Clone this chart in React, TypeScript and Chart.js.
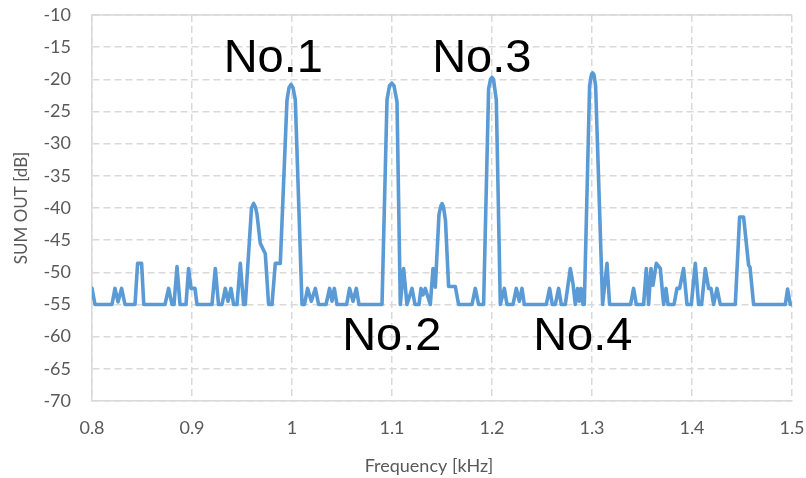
import React, { useEffect, useRef } from "react";
import { Chart, registerables } from "chart.js";

Chart.register(...registerables);

// Frequency (kHz) and SUM OUT (dB) vertices of the spectrum trace
const freqKHz = [
  0.8, 0.803, 0.82, 0.823, 0.826, 0.8296, 0.833, 0.843, 0.8456, 0.8496, 0.8518,
  0.873, 0.8766, 0.88, 0.882, 0.885, 0.888, 0.894, 0.8966, 0.899, 0.903, 0.905,
  0.92, 0.9233, 0.9265, 0.93, 0.9333, 0.936, 0.939, 0.9416, 0.945, 0.9483, 0.9516,
  0.9533, 0.9595, 0.9616, 0.9635, 0.965, 0.9683, 0.9733, 0.9766, 0.98, 0.9833, 0.9883,
  0.995, 0.997, 0.999, 1.001, 1.0033, 1.0066, 1.01, 1.0125, 1.0156, 1.0193, 1.0233,
  1.0266, 1.034, 1.0376, 1.04, 1.0423, 1.045, 1.0546, 1.0576, 1.061, 1.0643, 1.067,
  1.09, 1.095, 1.0975, 1.0998, 1.102, 1.105, 1.1083, 1.1116, 1.115, 1.12, 1.123,
  1.127, 1.129, 1.131, 1.1333, 1.1383, 1.141, 1.1433, 1.147, 1.149, 1.15, 1.1515,
  1.1535, 1.1566, 1.1633, 1.1666, 1.18, 1.1833, 1.1866, 1.1916, 1.1966, 1.1985, 1.2,
  1.2015, 1.2043, 1.2083, 1.2123, 1.215, 1.221, 1.2243, 1.2273, 1.23, 1.2323, 1.2543,
  1.2576, 1.2603, 1.2633, 1.2666, 1.2693, 1.2733, 1.2783, 1.281, 1.2833, 1.2856, 1.2873,
  1.289, 1.291, 1.2923, 1.2976, 1.2995, 1.3006, 1.302, 1.3036, 1.3106, 1.315, 1.3176,
  1.3386, 1.3416, 1.3443, 1.3516, 1.3543, 1.3566, 1.359, 1.361, 1.3643, 1.3683, 1.3716,
  1.374, 1.376, 1.382, 1.385, 1.3876, 1.3916, 1.395, 1.3993, 1.4033, 1.4066, 1.4096,
  1.4133, 1.4166, 1.419, 1.4216, 1.425, 1.4283, 1.4433, 1.4476, 1.4516, 1.4566, 1.458,
  1.4616, 1.4933, 1.4956, 1.4983, 1.5,
];

const sumOutDb = [
  -52.5, -55, -55, -52.5, -54.6, -52.5, -55, -55, -48.6, -48.6, -55,
  -55, -52.5, -55, -55, -49.1, -55, -55, -49.4, -52.5, -52.5, -55,
  -55, -49.4, -55, -55, -52.5, -54.5, -52.5, -55, -55, -48.6, -55,
  -55, -40, -39.3, -39.9, -41, -45.5, -47.1, -55, -55, -48.6, -48.6,
  -23.2, -21.3, -20.8, -21.3, -23.2, -38.8, -55, -55, -52.5, -54.5, -52.5,
  -55, -55, -52.5, -54.5, -52.5, -55, -55, -52.5, -54.5, -52.5, -55,
  -55, -23.2, -21, -20.6, -21, -23.5, -55, -49.4, -55, -52.5, -55,
  -55, -52.5, -53.5, -52.5, -55, -49.4, -52.3, -41, -39.6, -39.3, -39.8,
  -42, -52.2, -52.2, -55, -55, -52.5, -55, -55, -21.5, -20, -19.7,
  -20, -23.2, -55, -52.5, -55, -55, -52.5, -54.5, -52.5, -55, -55,
  -52.5, -55, -55, -52.5, -55, -55, -49.4, -51.8, -55, -52.5, -54.5,
  -52.5, -55, -55, -21, -19.2, -19.0, -19.3, -21, -55, -48.6, -55,
  -55, -52.5, -55, -55, -49.4, -55, -49.4, -52, -48.6, -49.4, -55,
  -52.5, -55, -55, -52.5, -52.5, -49.4, -55, -55, -48.6, -55, -55,
  -49.4, -52.5, -52.5, -55, -52.5, -55, -55, -41.4, -41.4, -48.9, -49.2,
  -55, -55, -52.6, -55, -55,
];

const xTickValues = [0.8, 0.9, 1.0, 1.1, 1.2, 1.3, 1.4, 1.5];
const xTickLabels = ["0.8", "0.9", "1", "1.1", "1.2", "1.3", "1.4", "1.5"];
const yTickValues = [-10, -15, -20, -25, -30, -35, -40, -45, -50, -55, -60, -65, -70];
const yTickLabels = ["-10", "-15", "-20", "-25", "-30", "-35", "-40", "-45", "-50", "-55", "-60", "-65", "-70"];

const peakLabels = ["No.1", "No.2", "No.3", "No.4"];
const peakLabelX = [0.9813, 1.0998, 1.1898, 1.2908];
const peakLabelY = [-18.9, -62.1, -18.9, -62.1];

const xTitle = "Frequency [kHz]";
const yTitle = "SUM OUT [dB]";

const TICK_FONT = "Lato, 'Open Sans', sans-serif";
const GRID = "#d9d9d9";
const TEXT = "#595959";

const overlayPlugin = {
  id: "overlay",
  afterDatasetsDraw(chart: any) {
    const { ctx, chartArea, scales } = chart;
    ctx.save();
    // solid top border
    ctx.strokeStyle = GRID;
    ctx.lineWidth = 1.5;
    ctx.beginPath();
    ctx.moveTo(chartArea.left, chartArea.top);
    ctx.lineTo(chartArea.right, chartArea.top);
    ctx.stroke();
    // peak labels
    ctx.fillStyle = "#000";
    ctx.font = "47px 'Liberation Sans', Arial, sans-serif";
    ctx.textAlign = "center";
    ctx.textBaseline = "alphabetic";
    peakLabels.forEach((t, i) => {
      ctx.fillText(t, scales.x.getPixelForValue(peakLabelX[i]), scales.y.getPixelForValue(peakLabelY[i]));
    });
    // axis titles
    ctx.fillStyle = TEXT;
    ctx.font = "18px " + TICK_FONT;
    ctx.textBaseline = "middle";
    ctx.fillText(xTitle, (chartArea.left + chartArea.right) / 2 - 13, 466);
    ctx.translate(22, (chartArea.top + chartArea.bottom) / 2);
    ctx.rotate(-Math.PI / 2);
    ctx.font = "17px " + TICK_FONT;
    ctx.fillText(yTitle, 0, 0);
    ctx.restore();
  },
};

const zeroPadding = (scale: any) => {
  scale.paddingTop = 0;
  scale.paddingBottom = 0;
  scale.paddingLeft = 0;
  scale.paddingRight = 0;
};

export default function App() {
  const ref = useRef<HTMLCanvasElement | null>(null);

  useEffect(() => {
    document.body.style.margin = "0";
    const canvas = ref.current;
    if (!canvas) return;
    const chart = new Chart(canvas, {
      type: "line",
      data: {
        datasets: [
          {
            data: freqKHz.map((f, i) => ({ x: f, y: sumOutDb[i] })),
            borderColor: "#5b9bd5",
            borderWidth: 3.6,
            pointRadius: 0,
            tension: 0,
            borderJoinStyle: "round",
            borderCapStyle: "round",
            fill: false,
          },
        ],
      },
      options: {
        responsive: false,
        animation: false,
        events: [],
        layout: { padding: { top: 15, right: 14, left: 0, bottom: 0 } },
        plugins: { legend: { display: false }, tooltip: { enabled: false }, title: { display: false } },
        scales: {
          x: {
            type: "linear",
            min: 0.8,
            max: 1.5,
            afterBuildTicks: (scale: any) => {
              scale.ticks = xTickValues.map((v) => ({ value: v }));
            },
            afterFit: (scale: any) => {
              scale.height = 77;
              zeroPadding(scale);
            },
            ticks: {
              autoSkip: false,
              maxRotation: 0,
              padding: 16,
              color: TEXT,
              font: { family: TICK_FONT, size: 18 },
              callback: (v: any) => {
                const idx = xTickValues.findIndex((t) => Math.abs(t - Number(v)) < 1e-6);
                return idx >= 0 ? xTickLabels[idx] : "";
              },
            },
            grid: { color: GRID, lineWidth: 1.5, drawTicks: false, tickLength: 0 },
            border: { display: true, color: GRID, width: 1.5, dash: [7, 4] },
          },
          y: {
            type: "linear",
            min: -70,
            max: -10,
            afterBuildTicks: (scale: any) => {
              scale.ticks = yTickValues.map((v) => ({ value: v }));
            },
            afterFit: (scale: any) => {
              scale.width = 92;
              zeroPadding(scale);
            },
            ticks: {
              autoSkip: false,
              padding: 21,
              color: TEXT,
              font: { family: TICK_FONT, size: 18 },
              callback: (v: any) => {
                const idx = yTickValues.indexOf(Number(v));
                return idx >= 0 ? yTickLabels[idx] : "";
              },
            },
            grid: { color: GRID, lineWidth: 1.5, drawTicks: false, tickLength: 0 },
            border: { display: true, color: GRID, width: 1.5, dash: [7, 4] },
          },
        },
      },
      plugins: [overlayPlugin],
    });
    return () => chart.destroy();
  }, []);

  return (
    <div style={{ position: "absolute", left: 0, top: 0, width: 806, height: 478, background: "#fff" }}>
      <canvas ref={ref} width={806} height={478} style={{ width: 806, height: 478, display: "block" }} />
    </div>
  );
}
